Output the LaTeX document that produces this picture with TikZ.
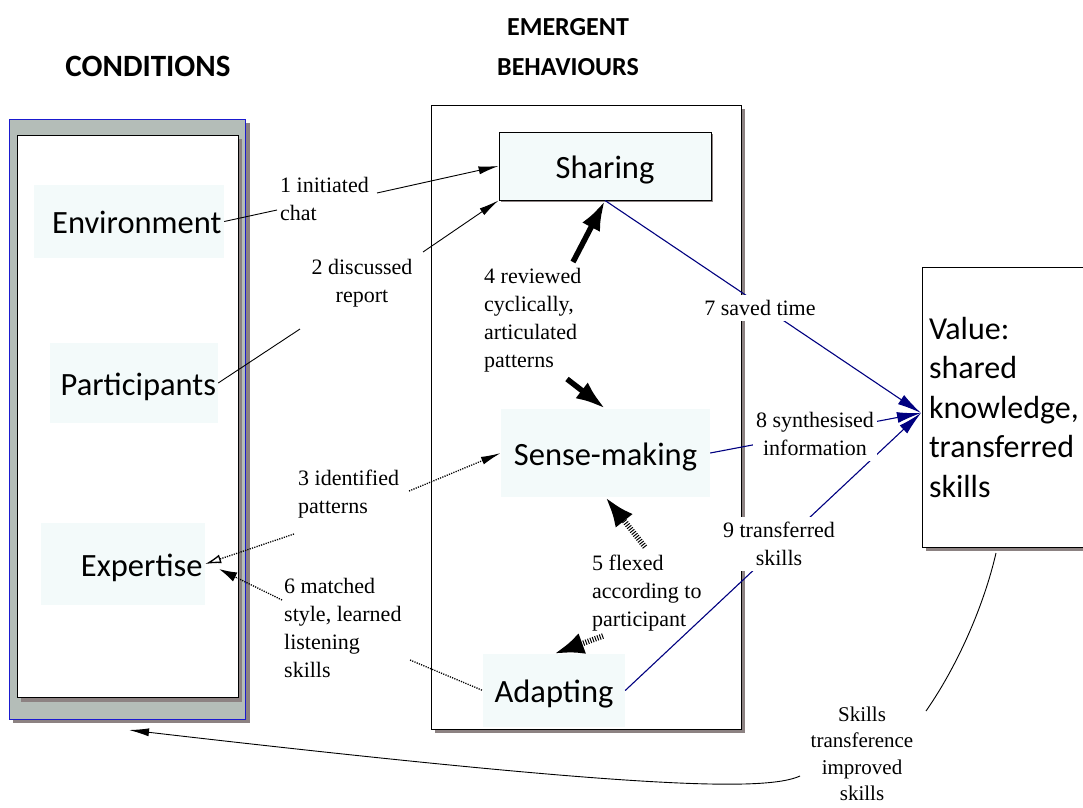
\documentclass[tikz,border=0pt]{standalone}
\usepackage{fontspec}
\setmainfont{Liberation Serif}
\newfontfamily\calib{Carlito}
\usetikzlibrary{arrows.meta}
\definecolor{panelgrey}{HTML}{B4BDB8}
\definecolor{shadowgrey}{HTML}{8C8282}
\definecolor{frameblue}{HTML}{1A1AD0}
\definecolor{boxfill}{HTML}{F3FAFA}
\definecolor{linknavy}{HTML}{000080}
\begin{document}
\begin{tikzpicture}[x=1pt,y=-1pt,
  lbl/.style={font=\fontsize{22}{28}\selectfont, inner sep=1pt, align=left},
  wlbl/.style={lbl, fill=white, inner xsep=3pt, inner ysep=5pt},
  item/.style={font=\calib\fontsize{32.5}{39}\selectfont, fill=boxfill, inner sep=0pt,
               text height=24pt, text depth=0pt},
  lefttext/.style={item, align=right},
  head/.style={font=\calib\bfseries\fontsize{26}{40}\selectfont, align=center},
  plain/.style={line width=0.9pt},
  tipblack/.style={plain, -{Latex[length=20pt,width=8pt]}},
  dotlink/.style={line width=1.3pt, dash pattern=on 1.2pt off 1.2pt},
  hatchlink/.style={line width=5.5pt, dash pattern=on 1pt off 1.5pt, -{Latex[length=30pt,width=22pt]}},
  boldlink/.style={line width=5.5pt, -{Latex[length=30pt,width=20pt]}},
  navylink/.style={draw=linknavy, line width=1.1pt},
  navyarrow/.style={navylink, -{Latex[length=24pt,width=11pt]}}]
\useasboundingbox (0,0) rectangle (1083,807);

% column headings
\node[head, font=\calib\bfseries\fontsize{31}{40}\selectfont] (hcond) at (148,66) {CONDITIONS};
\node[head] (hemerg) at (568,47) {EMERGENT\\BEHAVIOURS};

% conditions panel: grey frame with a white sheet inside
\fill[shadowgrey] (13,123) rectangle (250,723);
\draw[frameblue, fill=panelgrey, line width=0.9pt] (9,119) rectangle (245,719);
\fill[shadowgrey] (21,139) rectangle (242,702);
\draw[fill=white, line width=0.9pt] (17,135) rectangle (238,697);

% emergent behaviours panel
\fill[shadowgrey] (435,109) rectangle (745,733);
\node[draw, fill=white, line width=0.8pt, minimum width=310, minimum height=624, inner sep=0pt] (midpanel) at (586,417) {};

% value panel
\fill[shadowgrey] (926,271) rectangle (1099,551);
\node[draw, fill=white, line width=0.9pt, minimum width=177, minimum height=280, inner sep=0pt,
      text width=163, align=left, font=\calib\fontsize{32}{39.5}\selectfont] (value) at (1010.5,407)
  {Value:\\shared\\knowledge,\\transferred\\skills};

% condition items
\node[lefttext, minimum width=190, minimum height=73, text width=185] (env) at (129,221.5) {Environment};
\node[lefttext, minimum width=168, minimum height=80, text width=164] (part) at (134,383) {Participants};
\node[lefttext, minimum width=164, minimum height=82, text width=159] (expert) at (123,564) {Expertise};

% behaviours
\fill[shadowgrey] (501,134) rectangle (713,202);
\node[item, draw, line width=0.9pt, minimum width=212, minimum height=68] (sharing) at (605,166) {Sharing};
\node[item, minimum width=209, minimum height=88] (sense) at (605.5,453) {Sense-making};
\node[item, minimum width=142, minimum height=73] (adapt) at (554,690.5) {Adapting};

% free ends of the connectors
\coordinate (c1a) at (277,210);
\coordinate (c1b) at (377,193);
\coordinate (c2a) at (300,329);
\coordinate (c2b) at (423,252);
\coordinate (c3a) at (409,491);
\coordinate (c3b) at (294,534);
\coordinate (c4a) at (573,262);
\coordinate (c4b) at (567,379);
\coordinate (c5a) at (645,547);
\coordinate (c5b) at (603,636);
\coordinate (c6a) at (282,600);
\coordinate (c6tip) at (219,569);
\coordinate (c6b) at (410,660);
\coordinate (vin) at (921,413);
\coordinate (c10a) at (800,776);
\coordinate (c10tip) at (129,730);
\coordinate (c11a) at (996,553);
\coordinate (c11b) at (926,711);

% connectors
\draw[plain] (env.east) -- (c1a);
\draw[tipblack] (c1b) -- (sharing.west);
\draw[plain] (part.east) -- (c2a);
\draw[tipblack] (c2b) -- (sharing.south west);
\draw[dotlink, -{Latex[length=20pt,width=8pt]}] (c3a) -- (sense.west);
\draw[dotlink, -{Latex[length=16pt,width=9pt,open]}] (c3b) -- (expert.east);
\draw[dotlink, -{Latex[length=18pt,width=10pt]}] (c6a) -- (c6tip);
\draw[dotlink] (c6b) -- (adapt.west);
\draw[boldlink] (c4a) -- (sharing.south);
\draw[boldlink] (c4b) -- (sense.north);
\draw[hatchlink] (c5a) -- (sense.south);
\draw[hatchlink] (c5b) -- (adapt.north);
\draw[navyarrow] (sharing.south) -- (vin);
\draw[navyarrow] (sense.east) -- (vin);
\draw[navyarrow] (adapt.east) -- (vin);
\draw[plain] (c11a) .. controls (984,605) and (958,665) .. (c11b);
\draw[plain, -{Latex[length=20pt,width=8pt]}] (c10a) .. controls (765,792) and (630,788) .. (c10tip);

% connector labels
\node[lbl, anchor=west] (l1) at (279,199) {1 initiated\\chat};
\node[lbl, align=center] (l2) at (362,283) {2 discussed\\report};
\node[lbl, anchor=west] (l3) at (297,494) {3 identified\\patterns};
\node[lbl, anchor=west] (l4) at (483,320) {4 reviewed\\cyclically,\\articulated\\patterns};
\node[lbl, anchor=west] (l5) at (591,593) {5 flexed\\according to\\participant};
\node[lbl, anchor=west] (l6) at (283,628) {6 matched\\style, learned\\listening\\skills};
\node[wlbl] (l7) at (760,308) {7 saved time};
\node[wlbl, align=center] (l8) at (815,434) {8 synthesised\\information};
\node[wlbl, align=center] (l9) at (779,544) {9 transferred\\skills};
\node[lbl, align=center, font=\fontsize{21}{26.5}\selectfont] (l10) at (862,754) {Skills\\transference\\improved\\skills};
\end{tikzpicture}
\end{document}
